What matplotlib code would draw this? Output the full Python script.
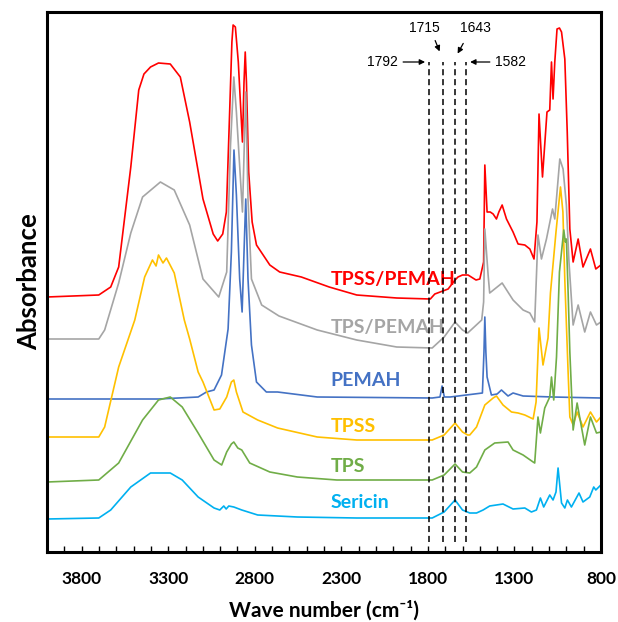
import numpy as np
import matplotlib.pyplot as plt

# FTIR spectra, absorbance in arbitrary (offset) units
red_wn = [4000, 3701, 3632, 3586, 3516, 3470, 3440, 3402, 3356, 3288, 3230, 3176, 3099, 3040, 3014, 2985,
          2964, 2945, 2932, 2925, 2912, 2895, 2880, 2871, 2862, 2855, 2848, 2835, 2815, 2790, 2713, 2656,
          2531, 2370, 2211, 1980, 1786, 1760, 1729, 1683, 1643, 1626, 1600, 1568, 1522, 1500, 1478, 1471,
          1458, 1440, 1423, 1404, 1390, 1371, 1346, 1308, 1279, 1240, 1211, 1187, 1170, 1158, 1138, 1112,
          1096, 1086, 1077, 1067, 1054, 1040, 1028, 1009, 995, 980, 961, 932, 904, 861, 830, 801]
red_abs = [255, 257, 265, 285, 385, 462, 478, 485, 489, 488, 475, 430, 353, 318, 311, 318,
           340, 440, 510, 527, 525, 490, 440, 410, 470, 500, 470, 380, 330, 307, 287, 280,
           275, 265, 257, 254, 253, 258, 260, 263, 272, 275, 277, 277, 272, 273, 290, 387,
           340, 340, 338, 333, 340, 347, 333, 320, 308, 307, 303, 293, 330, 438, 375, 440,
           442, 490, 453, 490, 523, 524, 520, 493, 420, 323, 290, 313, 285, 303, 283, 287]

gray_wn = [4000, 3701, 3667, 3586, 3516, 3448, 3345, 3265, 3176, 3099, 3008, 2962, 2940, 2921, 2906, 2871,
           2852, 2839, 2819, 2760, 2660, 2439, 2211, 1980, 1775, 1706, 1643, 1600, 1570, 1489, 1478, 1471,
           1452, 1443, 1371, 1308, 1250, 1211, 1183, 1164, 1144, 1115, 1080, 1067, 1038, 1019, 1000, 985,
           961, 932, 894, 861, 826, 801]
gray_abs = [213, 213, 222, 269, 319, 355, 370, 362, 327, 273, 255, 280, 407, 475, 440, 340,
            460, 353, 273, 247, 236, 222, 212, 205, 204, 215, 230, 222, 219, 232, 250, 323,
            277, 259, 269, 252, 242, 239, 230, 317, 293, 313, 343, 333, 393, 383, 347, 290,
            227, 247, 220, 240, 227, 230]

blue_wn = [4000, 3356, 3127, 3079, 3035, 2992, 2954, 2935, 2920, 2906, 2887, 2873, 2862, 2852, 2839, 2819,
           2790, 2733, 2668, 2439, 1775, 1730, 1718, 1705, 1671, 1485, 1476, 1471, 1465, 1458, 1433, 1400,
           1375, 1337, 1308, 1250, 1079, 801]
blue_abs = [153, 153, 155, 160, 162, 177, 223, 300, 402, 357, 273, 240, 300, 353, 273, 207,
            170, 160, 160, 155, 154, 155, 166, 155, 155, 159, 200, 235, 200, 175, 157, 158,
            162, 156, 159, 156, 155, 154]

yellow_wn = [4000, 3701, 3667, 3586, 3493, 3436, 3391, 3370, 3356, 3330, 3310, 3265, 3207, 3176, 3127, 3099,
             3035, 3002, 2962, 2935, 2921, 2906, 2868, 2783, 2668, 2439, 2211, 1775, 1706, 1643, 1600, 1570,
             1558, 1519, 1471, 1423, 1404, 1366, 1317, 1279, 1240, 1192, 1175, 1158, 1135, 1106, 1092, 1060,
             1034, 1020, 1009, 990, 980, 961, 938, 904, 861, 826, 801]
yellow_abs = [115, 115, 125, 185, 232, 275, 292, 286, 297, 289, 294, 279, 232, 213, 180, 170,
              142, 143, 155, 170, 172, 160, 140, 132, 124, 115, 112, 112, 117, 129, 120, 117,
              117, 125, 147, 154, 156, 147, 140, 139, 137, 133, 150, 224, 187, 214, 259, 320,
              365, 340, 272, 180, 135, 127, 140, 125, 140, 130, 135]

green_wn = [4000, 3701, 3586, 3448, 3356, 3288, 3219, 3127, 3035, 2991, 2962, 2935, 2921, 2898, 2875, 2829,
            2713, 2554, 2326, 1775, 1706, 1643, 1600, 1558, 1519, 1471, 1414, 1337, 1308, 1250, 1192, 1183,
            1164, 1150, 1125, 1096, 1086, 1073, 1057, 1040, 1015, 1006, 1000, 990, 980, 961, 938, 894,
            861, 826, 801]
green_abs = [70, 72, 89, 132, 152, 155, 145, 119, 92, 87, 100, 108, 110, 104, 102, 89,
             80, 75, 72, 72, 77, 88, 80, 79, 85, 102, 109, 110, 102, 97, 90, 89,
             135, 119, 144, 155, 175, 152, 195, 280, 322, 310, 313, 260, 200, 122, 149, 107,
             135, 119, 120]

cyan_wn = [4000, 3701, 3632, 3516, 3402, 3288, 3219, 3127, 3035, 3002, 2979, 2965, 2950, 2921, 2875, 2783,
           2554, 2211, 1775, 1706, 1643, 1600, 1558, 1519, 1481, 1443, 1366, 1308, 1240, 1202, 1173, 1150,
           1131, 1096, 1077, 1060, 1048, 1028, 1009, 994, 971, 927, 904, 865, 842, 830, 801]
cyan_abs = [33, 34, 42, 65, 79, 79, 72, 55, 44, 42, 46, 43, 46, 45, 42, 37,
            35, 34, 34, 40, 52, 42, 39, 39, 42, 46, 48, 43, 44, 40, 42, 54,
            45, 57, 52, 60, 84, 49, 44, 52, 45, 59, 50, 55, 65, 62, 67]

names = ['TPSS/PEMAH', 'TPS/PEMAH', 'PEMAH', 'TPSS', 'TPS', 'Sericin']
colors = ['#FF0000', '#A5A5A5', '#4472C4', '#FFC000', '#70AD47', '#00B0F0']
label_y = [272, 224, 171, 125, 86, 49]
marks = [1792, 1715, 1643, 1582]
tick_labels = [3800, 3300, 2800, 2300, 1800, 1300, 800]

series = [(red_wn, red_abs), (gray_wn, gray_abs), (blue_wn, blue_abs),
          (yellow_wn, yellow_abs), (green_wn, green_abs), (cyan_wn, cyan_abs)]

fig = plt.figure(figsize=(6.18, 6.22), dpi=100)
ax = fig.add_axes([47 / 618, 1 - 552 / 622, 554 / 618, 540 / 622])

for (wn, ab), name, c, ly in zip(series, names, colors, label_y):
    ax.plot(wn, ab, color=c, lw=1.2)
    ax.text(2361, ly, name, color=c, fontsize=14, fontweight='bold', family='Lato', va='center', ha='left')

for m in marks:
    ax.plot([m, m], [10, 490], color='black', lw=1.1, ls=(0, (4, 2.5)), zorder=5)

akw = dict(arrowstyle='-|>', color='black', lw=0.9, mutation_scale=8)
ax.annotate('1792', xy=(1800, 490), xytext=(1975, 490), fontsize=10, family='Liberation Sans',
            va='center', ha='right', arrowprops=akw)
ax.annotate('1582', xy=(1572, 490), xytext=(1410, 490), fontsize=10, family='Liberation Sans',
            va='center', ha='left', arrowprops=akw)
ax.annotate('', xy=(1726, 498), xytext=(1764, 514), arrowprops=akw)
ax.annotate('', xy=(1636, 496), xytext=(1588, 511), arrowprops=akw)
ax.text(1818, 524, '1715', fontsize=10, family='Liberation Sans', ha='center', va='center')
ax.text(1523, 524, '1643', fontsize=10, family='Liberation Sans', ha='center', va='center')

ax.set_xlim(4000, 800)
ax.set_ylim(0, 540)
ticks = np.arange(800, 4001, 100)
ax.set_xticks(ticks, [str(t) if t in tick_labels else '' for t in ticks])
ax.set_yticks([])
ax.tick_params(axis='x', direction='in', length=4, width=1, pad=14, labelsize=12.5)
for lab in ax.get_xticklabels():
    lab.set_fontweight('bold')
    lab.set_family('Lato')
for s in ax.spines.values():
    s.set_linewidth(2.2)

ax.set_xlabel('Wave number (cm\u207b\u00b9)', fontsize=15, fontweight='bold',
              family=['Lato', 'DejaVu Sans'], labelpad=9)
ax.set_ylabel('Absorbance', fontsize=18.5, fontweight='bold', family='Lato', labelpad=4)

plt.savefig('out.png')
